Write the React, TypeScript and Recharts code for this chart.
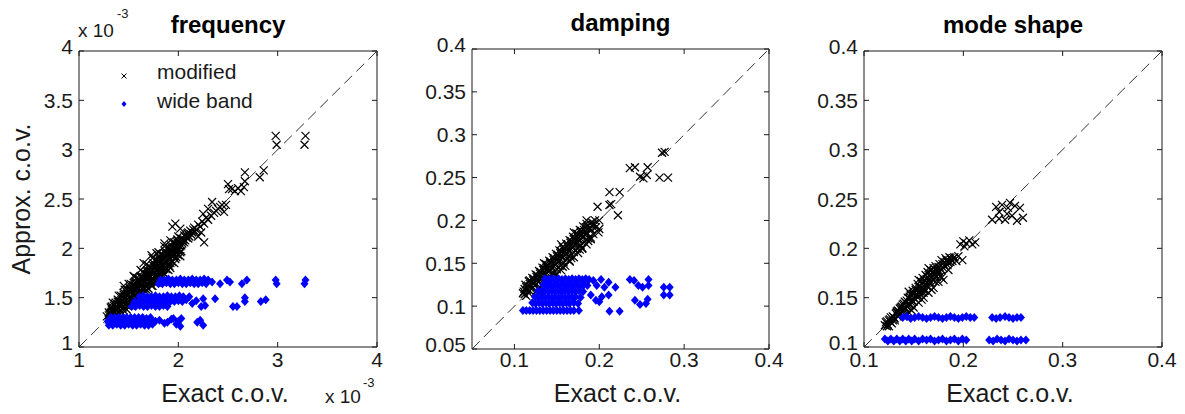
import React from "react";
import { ScatterChart, Scatter, XAxis, YAxis, ReferenceLine, Legend } from "recharts";

const FONT = '"Liberation Sans", Arial, Helvetica, sans-serif';
const INK = "#1a1a1a";
const BLUE = "#0000ff";

type P = [number, number];

const panelTitles = ["frequency", "damping", "mode shape"];
const seriesNames = ["modified", "wide band"];
const xAxisLabel = "Exact c.o.v.";
const yAxisLabel = "Approx. c.o.v.";
const expBase = "x 10";
const expPower = "-3";

const freqTicksX = [1, 2, 3, 4];
const freqTicksY = [1, 1.5, 2, 2.5, 3, 3.5, 4];
const dampTicksX = [0.1, 0.2, 0.3, 0.4];
const dampTicksY = [0.05, 0.1, 0.15, 0.2, 0.25, 0.3, 0.35, 0.4];
const shapeTicksX = [0.1, 0.2, 0.3, 0.4];
const shapeTicksY = [0.1, 0.15, 0.2, 0.25, 0.3, 0.35, 0.4];

// frequency (x 1e-3)
const freqModified: P[] = [
  [1.28,1.31],[1.30,1.28],[1.30,1.35],[1.32,1.33],[1.33,1.38],[1.34,1.30],[1.35,1.42],[1.36,1.36],[1.37,1.45],[1.38,1.33],
  [1.38,1.40],[1.39,1.48],[1.40,1.43],[1.41,1.37],[1.42,1.52],[1.43,1.46],[1.44,1.40],[1.45,1.55],[1.46,1.49],[1.47,1.44],
  [1.48,1.58],[1.49,1.52],[1.50,1.47],[1.51,1.60],[1.52,1.55],[1.53,1.50],[1.54,1.63],[1.55,1.58],[1.56,1.52],[1.57,1.66],
  [1.58,1.61],[1.59,1.55],[1.60,1.69],[1.61,1.64],[1.62,1.58],[1.63,1.72],[1.64,1.67],[1.65,1.61],[1.66,1.75],[1.67,1.70],
  [1.68,1.64],[1.69,1.78],[1.70,1.73],[1.71,1.67],[1.72,1.81],[1.73,1.76],[1.74,1.70],[1.75,1.85],[1.76,1.79],[1.77,1.73],
  [1.78,1.88],[1.79,1.82],[1.80,1.76],[1.81,1.91],[1.82,1.85],[1.83,1.80],[1.84,1.94],[1.85,1.88],[1.86,1.83],[1.87,1.97],
  [1.88,1.91],[1.89,1.86],[1.90,2.00],[1.91,1.94],[1.92,1.89],[1.93,2.03],[1.94,1.97],[1.95,1.92],[1.96,2.06],[1.97,2.00],
  [1.98,1.96],[1.99,2.09],[2.00,2.03],[2.01,1.99],[2.03,2.10],[2.04,2.05],[2.06,2.13],[2.07,2.08],[2.09,2.15],[2.11,2.12],
  [2.12,2.18],[2.14,2.16],[2.16,2.21],[2.18,2.19],[2.20,2.24],[2.22,2.22],[2.24,2.27],[2.26,2.25],[2.28,2.31],[2.30,2.29],
  [2.33,2.33],[2.36,2.36],[2.40,2.40],[2.44,2.44],
  [1.31,1.33],[1.33,1.36],[1.35,1.34],[1.37,1.41],[1.39,1.39],[1.41,1.45],[1.43,1.43],[1.45,1.49],[1.47,1.47],[1.49,1.55],
  [1.51,1.51],[1.53,1.57],[1.55,1.55],[1.57,1.62],[1.59,1.59],[1.61,1.67],[1.63,1.63],[1.65,1.70],[1.67,1.66],[1.69,1.74],
  [1.71,1.71],[1.73,1.79],[1.75,1.75],[1.77,1.83],[1.79,1.79],[1.81,1.87],[1.83,1.83],[1.85,1.92],[1.87,1.87],[1.89,1.95],
  [1.91,1.91],[1.93,1.99],[1.95,1.95],[1.97,2.04],[1.99,2.01],[2.01,2.06],[2.03,2.03],[2.05,2.09],[2.08,2.11],[2.10,2.10],
  [2.13,2.14],[2.15,2.19],[2.17,2.17],
  [1.30,1.32],[1.32,1.40],[1.34,1.36],[1.36,1.44],[1.38,1.37],[1.40,1.47],[1.42,1.43],[1.44,1.51],[1.46,1.45],[1.48,1.54],
  [1.50,1.50],[1.52,1.58],[1.54,1.53],[1.56,1.62],[1.58,1.57],[1.60,1.65],[1.62,1.61],[1.64,1.70],[1.66,1.65],[1.68,1.73],
  [1.70,1.69],[1.72,1.77],[1.74,1.73],[1.76,1.82],[1.78,1.77],[1.80,1.86],[1.82,1.81],[1.84,1.89],[1.86,1.85],[1.88,1.94],
  [1.90,1.89],[1.92,1.97],[1.94,1.93],[1.96,2.01],[1.98,1.98],[2.00,2.07],[2.02,2.02],[2.04,2.08],[2.06,2.06],[2.08,2.13],
  [2.10,2.16],
  [1.33,1.41],[1.39,1.46],[1.45,1.53],[1.51,1.58],[1.57,1.64],[1.63,1.70],[1.69,1.76],[1.75,1.82],[1.81,1.89],[1.87,1.95],
  [1.93,2.01],[1.99,2.06],
  [1.32,1.35],[1.38,1.41],[1.44,1.47],[1.50,1.53],[1.56,1.59],[1.62,1.65],[1.68,1.71],[1.74,1.77],[1.80,1.83],[1.86,1.89],
  [1.92,1.95],[1.98,2.01],[2.04,2.07],
  [1.36,1.31],[1.42,1.36],[1.48,1.42],[1.54,1.48],[1.60,1.55],[1.66,1.60],[1.72,1.66],[1.78,1.72],[1.84,1.78],[1.90,1.84],
  [1.96,1.90],[2.02,1.96],
  [1.45,1.37],[1.48,1.38],[1.52,1.42],[1.55,1.44],[1.58,1.48],[1.61,1.50],[1.64,1.54],[1.67,1.56],[1.70,1.59],[1.73,1.62],
  [1.76,1.66],[1.79,1.68],[1.82,1.72],[1.85,1.75],[1.88,1.79],[1.91,1.82],[1.94,1.86],[1.97,1.89],[2.00,1.93],[2.03,1.97],
  [1.62,1.52],[1.68,1.58],[1.74,1.62],[1.80,1.68],[1.86,1.74],[1.92,1.80],[1.78,1.65],[1.84,1.71],[1.90,1.78],[1.96,1.85],
  [2.02,1.92],
  [1.50,1.43],[1.56,1.48],[1.62,1.54],[1.68,1.61],[1.74,1.66],[1.80,1.72],[1.86,1.79],[1.92,1.85],[1.98,1.91],
  [1.34,1.45],[1.40,1.52],[1.46,1.58],[1.52,1.64],[1.58,1.70],[1.64,1.76],[1.70,1.82],[1.76,1.88],[1.82,1.94],[1.88,2.00],
  [1.94,2.06],[2.00,2.12],
  [1.50,1.64],[1.56,1.71],[1.62,1.78],[1.68,1.84],[1.74,1.90],[1.80,1.96],[1.86,2.02],[1.92,2.08],
  [1.45,1.62],[1.55,1.72],[1.65,1.85],[1.73,1.93],[1.78,1.95],[1.86,2.05],[1.94,2.22],[1.97,2.25],[2.02,2.20],[2.23,2.16],
  [2.26,2.06],[2.20,2.12],[1.50,1.42],[1.62,1.55],[1.72,1.65],
  [2.25,2.35],[2.30,2.40],[2.34,2.47],[2.38,2.38],[2.42,2.42],[2.46,2.37],[2.48,2.44],[2.50,2.65],[2.51,2.60],[2.54,2.60],
  [2.57,2.58],[2.60,2.61],[2.63,2.58],[2.66,2.62],[2.67,2.68],[2.67,2.77],[2.82,2.72],[2.86,2.79],[2.98,3.14],[2.99,3.05],
  [3.28,3.14],[3.27,3.05],
];

const freqWide: P[] = [
  [1.30,1.22],[1.34,1.22],[1.38,1.23],[1.42,1.22],[1.46,1.22],[1.50,1.23],[1.54,1.22],[1.58,1.22],[1.62,1.23],[1.66,1.22],[1.70,1.22],[1.74,1.23],
  [1.29,1.26],[1.33,1.26],[1.37,1.27],[1.41,1.26],[1.45,1.26],[1.49,1.27],[1.53,1.26],[1.57,1.26],[1.61,1.27],[1.65,1.26],[1.69,1.26],[1.73,1.27],[1.77,1.26],[1.81,1.27],
  [1.32,1.30],[1.36,1.30],[1.40,1.30],[1.44,1.30],[1.48,1.30],[1.52,1.30],[1.56,1.30],[1.60,1.30],[1.64,1.30],[1.68,1.29],[1.72,1.30],
  [1.86,1.24],[1.89,1.25],[1.93,1.28],[1.95,1.29],[1.98,1.23],[2.00,1.26],[2.02,1.21],[2.03,1.29],[2.19,1.25],[2.22,1.27],[2.25,1.22],
  [1.61,1.51],[1.65,1.52],[1.69,1.51],[1.73,1.51],[1.77,1.52],[1.81,1.51],[1.85,1.51],[1.89,1.52],[1.93,1.51],[1.97,1.51],[2.01,1.52],[2.05,1.51],
  [1.56,1.46],[1.60,1.46],[1.64,1.47],[1.68,1.46],[1.72,1.46],[1.76,1.47],[1.80,1.46],[1.84,1.46],[1.88,1.47],[1.92,1.46],[1.96,1.46],[2.00,1.47],[2.04,1.46],
  [1.53,1.41],[1.57,1.41],[1.61,1.42],[1.65,1.41],[1.69,1.41],[1.73,1.42],[1.77,1.41],[1.81,1.41],[1.85,1.42],[1.89,1.41],
  [2.08,1.48],[2.11,1.51],[2.14,1.44],[2.18,1.47],[2.23,1.41],[2.27,1.42],[2.25,1.49],[2.37,1.49],[2.55,1.41],[2.59,1.41],[2.67,1.50],[2.67,1.46],[2.83,1.46],[2.88,1.48],
  [1.82,1.68],[1.86,1.68],[1.90,1.69],[1.94,1.68],[1.98,1.68],[2.02,1.69],[2.06,1.68],[2.10,1.68],[2.14,1.69],[2.18,1.68],[2.22,1.68],[2.26,1.69],[2.30,1.68],
  [1.80,1.64],[1.84,1.64],[1.88,1.65],[1.92,1.64],[1.96,1.64],[2.00,1.65],[2.04,1.64],[2.08,1.64],[2.12,1.65],[2.16,1.64],[2.20,1.64],[2.24,1.65],[2.28,1.64],
  [2.34,1.66],[2.42,1.64],[2.49,1.68],[2.52,1.66],[2.64,1.64],[2.69,1.68],[2.98,1.68],[2.99,1.64],[3.28,1.68],[3.27,1.64],
];

// damping
const dampModified: P[] = [
  [0.110,0.115],[0.112,0.120],[0.114,0.112],[0.116,0.124],[0.118,0.118],[0.120,0.128],[0.121,0.121],[0.123,0.132],[0.125,0.125],[0.126,0.118],
  [0.127,0.136],[0.129,0.129],[0.130,0.122],[0.131,0.140],[0.133,0.133],[0.134,0.127],[0.135,0.144],[0.137,0.137],[0.138,0.131],[0.139,0.148],
  [0.141,0.141],[0.142,0.135],[0.143,0.152],[0.145,0.145],[0.146,0.139],[0.147,0.156],[0.149,0.149],[0.150,0.143],[0.151,0.160],[0.153,0.153],
  [0.154,0.147],[0.155,0.164],[0.157,0.157],[0.158,0.151],[0.159,0.168],[0.161,0.161],[0.162,0.155],[0.163,0.172],[0.165,0.165],[0.166,0.159],
  [0.167,0.176],[0.169,0.169],[0.170,0.163],[0.171,0.180],[0.173,0.173],[0.174,0.167],[0.175,0.184],[0.177,0.177],[0.178,0.171],[0.179,0.188],
  [0.181,0.181],[0.182,0.175],[0.184,0.192],[0.186,0.185],[0.187,0.179],[0.189,0.196],[0.191,0.189],[0.193,0.184],[0.195,0.200],[0.196,0.192],
  [0.111,0.117],[0.113,0.125],[0.115,0.119],[0.117,0.129],[0.119,0.123],[0.121,0.133],[0.123,0.127],[0.125,0.137],[0.127,0.131],[0.129,0.141],
  [0.131,0.135],[0.133,0.145],[0.135,0.139],[0.137,0.149],[0.139,0.143],[0.141,0.153],[0.143,0.147],[0.145,0.157],[0.147,0.151],[0.149,0.161],
  [0.151,0.155],[0.153,0.165],[0.155,0.159],[0.157,0.169],[0.159,0.163],[0.161,0.173],[0.163,0.167],[0.165,0.177],[0.167,0.171],[0.169,0.181],
  [0.171,0.175],[0.173,0.185],[0.175,0.179],[0.177,0.189],[0.179,0.183],[0.181,0.193],[0.183,0.187],[0.185,0.196],[0.188,0.191],[0.191,0.198],
  [0.194,0.196],
  [0.112,0.114],[0.114,0.122],[0.116,0.116],[0.118,0.126],[0.120,0.120],[0.122,0.130],[0.124,0.124],[0.126,0.134],[0.128,0.128],[0.130,0.138],
  [0.132,0.132],[0.134,0.142],[0.136,0.136],[0.138,0.146],[0.140,0.140],[0.142,0.150],[0.144,0.144],[0.146,0.154],[0.148,0.148],[0.150,0.158],
  [0.152,0.152],[0.154,0.162],[0.156,0.156],[0.158,0.166],[0.160,0.160],[0.162,0.170],[0.164,0.164],[0.166,0.174],[0.168,0.168],[0.170,0.178],
  [0.172,0.172],[0.174,0.182],[0.176,0.176],[0.178,0.186],[0.180,0.180],[0.182,0.189],[0.184,0.184],[0.186,0.193],[0.189,0.190],[0.192,0.195],
  [0.130,0.118],[0.135,0.122],[0.140,0.127],[0.145,0.132],[0.150,0.137],[0.155,0.142],[0.160,0.147],[0.165,0.152],[0.170,0.157],[0.175,0.162],
  [0.180,0.167],[0.185,0.172],[0.190,0.178],[0.137,0.126],[0.147,0.136],[0.157,0.146],[0.167,0.156],[0.177,0.166],[0.187,0.176],
  [0.198,0.216],[0.200,0.200],[0.199,0.186],[0.118,0.130],[0.135,0.150],[0.155,0.172],[0.170,0.186],[0.185,0.200],[0.165,0.153],[0.180,0.168],
  [0.190,0.180],[0.200,0.190],
  [0.212,0.233],[0.212,0.218],[0.224,0.233],[0.222,0.206],[0.214,0.219],[0.236,0.261],[0.242,0.262],[0.248,0.251],[0.257,0.262],[0.256,0.253],
  [0.252,0.249],[0.277,0.280],[0.274,0.279],[0.271,0.250],[0.281,0.250],
];

const dampWide: P[] = [
  [0.136,0.132],[0.140,0.131],[0.144,0.132],[0.148,0.131],[0.152,0.132],[0.156,0.131],[0.160,0.132],[0.164,0.131],[0.168,0.132],[0.172,0.131],[0.176,0.132],[0.180,0.131],[0.184,0.132],[0.188,0.131],
  [0.134,0.125],[0.138,0.124],[0.142,0.125],[0.146,0.124],[0.150,0.125],[0.154,0.124],[0.158,0.125],[0.162,0.124],[0.166,0.125],[0.170,0.124],[0.174,0.125],[0.178,0.124],[0.182,0.125],[0.186,0.124],
  [0.128,0.118],[0.132,0.117],[0.136,0.118],[0.140,0.117],[0.144,0.118],[0.148,0.117],[0.152,0.118],[0.156,0.117],[0.160,0.118],[0.164,0.117],[0.168,0.118],[0.172,0.117],[0.176,0.118],[0.181,0.117],
  [0.124,0.111],[0.128,0.110],[0.132,0.111],[0.136,0.110],[0.140,0.111],[0.144,0.110],[0.148,0.111],[0.152,0.110],[0.156,0.111],[0.160,0.110],[0.164,0.111],[0.168,0.110],[0.172,0.111],[0.178,0.110],
  [0.121,0.104],[0.125,0.103],[0.129,0.104],[0.133,0.103],[0.137,0.104],[0.141,0.103],[0.145,0.104],[0.149,0.103],[0.153,0.104],[0.157,0.103],[0.161,0.104],[0.165,0.103],[0.170,0.104],[0.175,0.103],
  [0.110,0.095],[0.114,0.095],[0.118,0.095],[0.122,0.095],[0.126,0.095],[0.130,0.095],[0.134,0.095],[0.138,0.095],[0.142,0.095],[0.146,0.095],[0.150,0.095],[0.154,0.095],[0.158,0.095],[0.162,0.095],[0.166,0.095],[0.170,0.095],[0.176,0.095],
  [0.193,0.130],[0.197,0.124],[0.202,0.131],[0.206,0.122],[0.211,0.128],[0.219,0.122],[0.190,0.113],[0.196,0.107],[0.203,0.111],[0.211,0.113],
  [0.200,0.105],[0.212,0.094],[0.224,0.094],[0.236,0.131],[0.241,0.130],[0.246,0.124],[0.251,0.122],[0.258,0.131],[0.258,0.124],[0.242,0.107],
  [0.248,0.102],[0.255,0.103],[0.257,0.108],[0.276,0.122],[0.283,0.122],[0.276,0.113],[0.283,0.113],
];

// mode shape
const shapeModified: P[] = [
  [0.121,0.122],[0.123,0.126],[0.125,0.121],[0.126,0.128],[0.128,0.124],[0.130,0.130],[0.131,0.127],[0.133,0.135],[0.134,0.131],[0.136,0.139],
  [0.137,0.134],[0.139,0.143],[0.140,0.138],[0.141,0.146],[0.143,0.141],[0.144,0.150],[0.145,0.144],[0.147,0.153],[0.148,0.147],[0.149,0.157],
  [0.150,0.150],[0.152,0.160],[0.153,0.153],[0.154,0.164],[0.155,0.156],[0.157,0.167],[0.158,0.159],[0.159,0.170],[0.160,0.162],[0.162,0.173],
  [0.163,0.165],[0.164,0.176],[0.166,0.168],[0.167,0.178],[0.168,0.171],[0.170,0.180],[0.171,0.174],[0.172,0.182],[0.174,0.176],[0.176,0.184],
  [0.177,0.172],[0.178,0.188],[0.180,0.180],[0.182,0.190],[0.184,0.183],[0.186,0.191],[0.188,0.188],[0.190,0.190],[0.193,0.187],[0.195,0.192],
  [0.122,0.125],[0.124,0.123],[0.127,0.130],[0.129,0.127],[0.132,0.134],[0.134,0.137],[0.135,0.133],[0.138,0.141],[0.139,0.137],[0.142,0.145],
  [0.142,0.139],[0.146,0.149],[0.146,0.143],[0.150,0.154],[0.150,0.146],[0.153,0.157],[0.154,0.150],[0.156,0.161],[0.157,0.153],[0.160,0.166],
  [0.161,0.157],[0.163,0.169],[0.164,0.161],[0.166,0.172],[0.167,0.165],[0.169,0.175],[0.170,0.168],[0.172,0.178],[0.173,0.171],[0.175,0.181],
  [0.176,0.176],[0.179,0.184],[0.181,0.186],[0.183,0.188],[0.185,0.186],[0.187,0.190],[0.189,0.187],[0.191,0.191],
  [0.123,0.121],[0.125,0.127],[0.127,0.125],[0.129,0.131],[0.131,0.129],[0.133,0.136],[0.135,0.136],[0.137,0.140],[0.138,0.136],[0.140,0.144],
  [0.141,0.140],[0.143,0.147],[0.144,0.143],[0.146,0.151],[0.147,0.146],[0.149,0.154],[0.151,0.149],[0.152,0.158],[0.154,0.153],[0.155,0.161],
  [0.157,0.156],[0.158,0.164],[0.160,0.159],[0.161,0.168],[0.163,0.162],[0.164,0.171],[0.166,0.165],[0.167,0.174],[0.169,0.168],[0.170,0.177],
  [0.172,0.171],[0.174,0.179],[0.176,0.181],[0.178,0.178],[0.181,0.183],[0.184,0.186],[0.187,0.186],
  [0.140,0.131],[0.145,0.135],[0.150,0.140],[0.155,0.145],[0.160,0.150],[0.165,0.155],[0.170,0.160],[0.175,0.166],[0.148,0.137],[0.158,0.148],
  [0.168,0.158],[0.178,0.170],
  [0.180,0.168],[0.199,0.188],[0.145,0.156],[0.155,0.168],[0.165,0.180],[0.160,0.155],[0.172,0.166],[0.185,0.178],
  [0.197,0.204],[0.200,0.207],[0.203,0.205],[0.206,0.208],[0.209,0.204],[0.212,0.206],[0.201,0.202],
  [0.229,0.229],[0.233,0.242],[0.236,0.230],[0.239,0.244],[0.242,0.229],[0.245,0.241],[0.247,0.246],[0.249,0.233],[0.252,0.243],[0.254,0.228],
  [0.257,0.241],[0.260,0.231],[0.236,0.237],[0.244,0.235],
];

const shapeWide: P[] = [
  [0.139,0.130],[0.143,0.131],[0.147,0.129],[0.151,0.130],[0.155,0.131],[0.159,0.130],[0.163,0.129],[0.167,0.130],[0.171,0.131],[0.175,0.130],
  [0.179,0.129],[0.183,0.130],[0.187,0.131],[0.191,0.130],[0.195,0.129],[0.199,0.130],[0.203,0.131],[0.207,0.130],[0.211,0.130],
  [0.229,0.130],[0.233,0.129],[0.237,0.130],[0.242,0.131],[0.246,0.130],[0.250,0.129],[0.254,0.130],[0.258,0.130],
  [0.121,0.108],[0.124,0.106],[0.127,0.108],[0.130,0.106],[0.133,0.108],[0.136,0.106],[0.139,0.108],[0.142,0.106],[0.145,0.108],[0.148,0.106],
  [0.151,0.108],[0.155,0.106],[0.159,0.108],[0.163,0.107],[0.167,0.108],[0.171,0.106],[0.175,0.107],[0.179,0.108],[0.183,0.106],[0.187,0.107],
  [0.191,0.108],[0.195,0.106],[0.199,0.108],[0.203,0.107],
  [0.226,0.107],[0.230,0.106],[0.234,0.108],[0.238,0.107],[0.242,0.106],[0.246,0.108],[0.250,0.107],[0.254,0.106],[0.258,0.107],[0.263,0.107],
];

const toObj = (a: P[]) => a.map(([x, y]) => ({ x, y }));

const XMark = (props: any) => {
  const { cx, cy } = props;
  const r = 4;
  return (
    <path
      d={`M${cx - r},${cy - r}L${cx + r},${cy + r}M${cx - r},${cy + r}L${cx + r},${cy - r}`}
      stroke="#000"
      strokeWidth={1.2}
      fill="none"
    />
  );
};

const Diamond = (props: any) => {
  const { cx, cy } = props;
  return <path d={`M${cx},${cy - 4.5}L${cx + 4},${cy}L${cx},${cy + 4.5}L${cx - 4},${cy}Z`} fill={BLUE} />;
};

const TL = 5;

function makeTick(side: string, label: boolean, min: number, max: number, dy: number) {
  return (props: any) => {
    const { x, y, payload } = props;
    const v = payload.value;
    if (side === "bottom") {
      return (
        <g>
          <line x1={x} y1={y} x2={x} y2={y - TL} stroke={INK} />
          {label && (
            <text x={x} y={y + dy} textAnchor="middle" fontSize={21} fontFamily={FONT} fill={INK}>
              {String(v)}
            </text>
          )}
        </g>
      );
    }
    if (side === "top") {
      return <line x1={x} y1={y} x2={x} y2={y + TL} stroke={INK} />;
    }
    if (side === "left") {
      const shift = v === max || v === min ? -5 : 0;
      return (
        <g>
          <line x1={x} y1={y} x2={x + TL} y2={y} stroke={INK} />
          {label && (
            <text x={x - dy} y={y + 7.5 + shift} textAnchor="end" fontSize={21} fontFamily={FONT} fill={INK}>
              {String(v)}
            </text>
          )}
        </g>
      );
    }
    return <line x1={x} y1={y} x2={x - TL} y2={y} stroke={INK} />;
  };
}

function titleContent(title: string, exp: boolean, fb: any) {
  return (props: any) => {
    const vb = props && props.viewBox && props.viewBox.width ? props.viewBox : fb;
    const cx = vb.x + vb.width / 2;
    const top = vb.y + vb.height;
    return (
      <g>
        <text x={cx} y={top - 18} textAnchor="middle" fontSize={24} fontWeight="bold" fontFamily={FONT} fill="#000">
          {title}
        </text>
        {exp && (
          <g>
            <text x={vb.x - 1} y={top - 14} fontSize={19} fontFamily={FONT} fill={INK}>
              {expBase}
            </text>
            <text x={vb.x + 38} y={top - 33} fontSize={13} fontFamily={FONT} fill={INK}>
              {expPower}
            </text>
          </g>
        )}
      </g>
    );
  };
}

function bottomContent(exp: boolean, baseOff: number, fb: any) {
  return (props: any) => {
    const vb = props && props.viewBox && props.viewBox.width ? props.viewBox : fb;
    const cx = vb.x + vb.width / 2;
    const right = vb.x + vb.width;
    return (
      <g>
        <text x={cx - 3} y={vb.y + baseOff} textAnchor="middle" fontSize={25} fontFamily={FONT} fill={INK}>
          {xAxisLabel}
        </text>
        {exp && (
          <g>
            <text x={right - 52} y={vb.y + 56} fontSize={19} fontFamily={FONT} fill={INK}>
              {expBase}
            </text>
            <text x={right - 14} y={vb.y + 40} fontSize={13} fontFamily={FONT} fill={INK}>
              {expPower}
            </text>
          </g>
        )}
      </g>
    );
  };
}

function leftContent(fb: any) {
  return (props: any) => {
    const vb = props && props.viewBox && props.viewBox.height ? props.viewBox : fb;
    const plotLeft = vb.x + vb.width;
    const bx = plotLeft - 49;
    const cy = vb.y + vb.height / 2;
    return (
      <text
        x={bx}
        y={cy}
        transform={`rotate(-90, ${bx}, ${cy})`}
        textAnchor="middle"
        fontSize={25}
        fontFamily={FONT}
        fill={INK}
      >
        {yAxisLabel}
      </text>
    );
  };
}

const LegendBox = () => (
  <svg width={200} height={60} style={{ display: "block" }}>
    <path d="M11.5,18.5L16.5,23.5M11.5,23.5L16.5,18.5" stroke="#000" strokeWidth={1} fill="none" />
    <text x={47} y={24} fontSize={21} fontFamily={FONT} fill={INK}>
      {seriesNames[0]}
    </text>
    <path d="M14,46L16.5,49L14,52L11.5,49Z" fill={BLUE} />
    <text x={47} y={53} fontSize={21} fontFamily={FONT} fill={INK}>
      {seriesNames[1]}
    </text>
  </svg>
);

type PanelProps = {
  left: number;
  width: number;
  margin: { top: number; right: number; bottom: number; left: number };
  xDomain: [number, number];
  yDomain: [number, number];
  xTicks: number[];
  yTicks: number[];
  modified: P[];
  wide: P[];
  title: string;
  exp: boolean;
  yLabel: boolean;
  legend: boolean;
  xTickDy: number;
  xLabelOff: number;
};

function Panel(p: PanelProps) {
  const H = 414;
  const plotW = p.width - p.margin.left - p.margin.right - 60;
  const plotH = H - p.margin.top - p.margin.bottom - 40;
  const plotX = p.margin.left + 50;
  const plotY = p.margin.top + 10;
  const fbTop = { x: plotX, y: plotY - 10, width: plotW, height: 10 };
  const fbBottom = { x: plotX, y: plotY + plotH, width: plotW, height: 30 };
  const fbLeft = { x: plotX - 50, y: plotY, width: 50, height: plotH };
  const d0 = Math.max(p.xDomain[0], p.yDomain[0]);
  return (
    <div style={{ position: "absolute", left: p.left, top: 0, width: p.width, height: H }}>
      <ScatterChart width={p.width} height={H} margin={p.margin}>
        <XAxis
          xAxisId="b"
          type="number"
          dataKey="x"
          domain={p.xDomain}
          ticks={p.xTicks}
          interval={0}
          orientation="bottom"
          height={30}
          tickSize={0}
          tickMargin={0}
          tickLine={false}
          axisLine={{ stroke: INK }}
          tick={makeTick("bottom", true, p.xDomain[0], p.xDomain[1], p.xTickDy)}
          label={{ content: bottomContent(p.exp, p.xLabelOff, fbBottom) } as any}
          allowDataOverflow
        />
        <XAxis
          xAxisId="t"
          type="number"
          dataKey="x"
          domain={p.xDomain}
          ticks={p.xTicks}
          interval={0}
          orientation="top"
          height={10}
          tickSize={0}
          tickMargin={0}
          tickLine={false}
          axisLine={{ stroke: INK }}
          tick={makeTick("top", false, p.xDomain[0], p.xDomain[1], 0)}
          label={{ content: titleContent(p.title, p.exp, fbTop) } as any}
          allowDataOverflow
        />
        <YAxis
          yAxisId="l"
          type="number"
          dataKey="y"
          domain={p.yDomain}
          ticks={p.yTicks}
          interval={0}
          orientation="left"
          width={50}
          tickSize={0}
          tickMargin={0}
          tickLine={false}
          axisLine={{ stroke: INK }}
          tick={makeTick("left", true, p.yDomain[0], p.yDomain[1], 6)}
          label={p.yLabel ? ({ content: leftContent(fbLeft) } as any) : undefined}
          allowDataOverflow
        />
        <YAxis
          yAxisId="r"
          type="number"
          dataKey="y"
          domain={p.yDomain}
          ticks={p.yTicks}
          interval={0}
          orientation="right"
          width={10}
          tickSize={0}
          tickMargin={0}
          tickLine={false}
          axisLine={{ stroke: INK }}
          tick={makeTick("right", false, p.yDomain[0], p.yDomain[1], 0)}
          allowDataOverflow
        />
        <ReferenceLine
          xAxisId="b"
          yAxisId="l"
          segment={[
            { x: d0, y: d0 },
            { x: p.xDomain[1], y: p.yDomain[1] },
          ]}
          stroke="#333"
          strokeWidth={1}
          strokeDasharray="11 6"
        />
        <Scatter
          name={seriesNames[0]}
          xAxisId="b"
          yAxisId="l"
          data={toObj(p.modified)}
          shape={XMark}
          isAnimationActive={false}
        />
        <Scatter
          name={seriesNames[1]}
          xAxisId="b"
          yAxisId="l"
          data={toObj(p.wide)}
          shape={Diamond}
          isAnimationActive={false}
        />
        {p.legend && (
          <Legend
            layout="vertical"
            align="center"
            verticalAlign="middle"
            wrapperStyle={{ position: "absolute", left: 110, top: 55, width: 200, height: 60 }}
            content={() => <LegendBox />}
          />
        )}
      </ScatterChart>
    </div>
  );
}

export default function App() {
  return (
    <div style={{ position: "absolute", left: 0, top: 0, width: 1185, height: 414, background: "#fff", overflow: "hidden" }}>
      <Panel
        left={0}
        width={400}
        margin={{ top: 41, right: 13, bottom: 37, left: 29 }}
        xDomain={[1, 4]}
        yDomain={[1, 4]}
        xTicks={freqTicksX}
        yTicks={freqTicksY}
        modified={freqModified}
        wide={freqWide}
        title={panelTitles[0]}
        exp={true}
        yLabel={true}
        legend={true}
        xTickDy={20}
        xLabelOff={55}
      />
      <Panel
        left={400}
        width={390}
        margin={{ top: 39, right: 11, bottom: 35, left: 22 }}
        xDomain={[0.05, 0.4]}
        yDomain={[0.05, 0.4]}
        xTicks={dampTicksX}
        yTicks={dampTicksY}
        modified={dampModified}
        wide={dampWide}
        title={panelTitles[1]}
        exp={false}
        yLabel={false}
        legend={false}
        xTickDy={18}
        xLabelOff={53}
      />
      <Panel
        left={790}
        width={395}
        margin={{ top: 41, right: 13, bottom: 37, left: 24 }}
        xDomain={[0.1, 0.4]}
        yDomain={[0.1, 0.4]}
        xTicks={shapeTicksX}
        yTicks={shapeTicksY}
        modified={shapeModified}
        wide={shapeWide}
        title={panelTitles[2]}
        exp={false}
        yLabel={false}
        legend={false}
        xTickDy={20}
        xLabelOff={55}
      />
    </div>
  );
}
